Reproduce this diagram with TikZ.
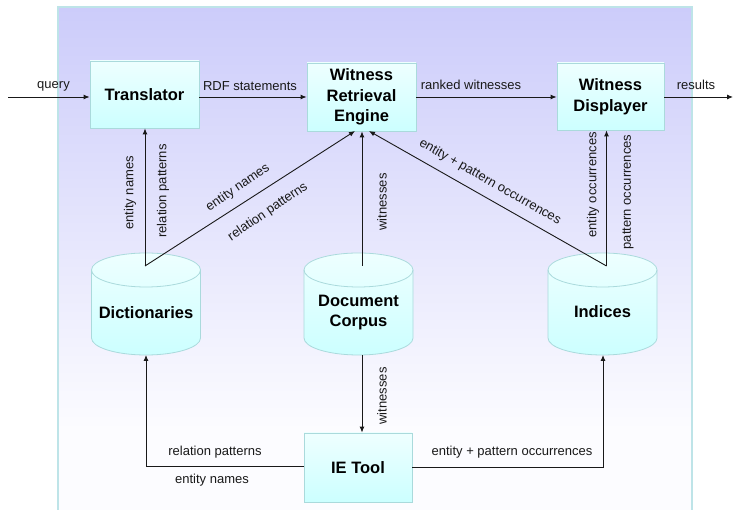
\documentclass[tikz,border=0pt]{standalone}
\usepackage{fontspec}
\setmainfont{Liberation Sans}
\usetikzlibrary{arrows.meta}
\definecolor{panelTop}{RGB}{204,204,250}
\definecolor{panelBot}{RGB}{252,252,255}
\definecolor{panelEdge}{RGB}{190,228,232}
\definecolor{boxTop}{RGB}{238,255,255}
\definecolor{boxBot}{RGB}{204,255,255}
\definecolor{boxEdge}{RGB}{170,218,220}
\definecolor{ink}{RGB}{25,25,25}
\tikzset{
  procbox/.style={draw=boxEdge, line width=0.8pt, top color=boxTop, bottom color=boxBot,
    font=\bfseries\fontsize{16.5}{20.5}\selectfont, align=center, inner sep=0pt, text=black},
  cyltext/.style={font=\bfseries\fontsize{16.5}{20.5}\selectfont, align=center, inner sep=0pt, text=black},
  cylbody/.style={top color=boxTop, bottom color=boxBot, draw=boxEdge, line width=0.8pt},
  lbl/.style={font=\fontsize{13}{15}\selectfont, text=ink, inner sep=0pt},
  flow/.style={draw=ink, line width=0.9pt, -{Latex[length=6pt,width=5pt]}},
}
\begin{document}
\begin{tikzpicture}[x=1pt,y=1pt]
\useasboundingbox (0,0) rectangle (733,510);
% background panel
\shade[top color=panelTop, bottom color=panelBot] (58,80) rectangle (692,503);
\fill[panelBot] (58,-5) rectangle (692,80.5);
\draw[panelEdge, line width=2pt] (58,-5) -- (58,503) -- (692,503) -- (692,-5);

% cylinders
\foreach \cx in {146,358.5,602.5}{
  \shade[cylbody] (\cx-54.5,240) -- (\cx-54.5,172)
     arc[start angle=180, end angle=360, x radius=54.5, y radius=17]
     -- (\cx+54.5,240)
     arc[start angle=0, end angle=180, x radius=54.5, y radius=17] -- cycle;
  \draw[boxEdge, line width=0.8pt] (\cx-54.5,240)
     arc[start angle=180, end angle=360, x radius=54.5, y radius=17];
}
\node[cyltext] (dict) at (146,197) {Dictionaries};
\node[cyltext] (corpus) at (358.5,197.5) {Document\\Corpus};
\node[cyltext] (indices) at (602.5,198) {Indices};

% boxes
\node[procbox, minimum width=109pt, minimum height=67pt] (tr) at (144.5,415.5) {Translator};
\node[procbox, minimum width=109pt, minimum height=68pt] (wre) at (361.5,413) {Witness\\Retrieval\\Engine};
\node[procbox, minimum width=107pt, minimum height=67pt] (wd) at (610.5,413.5) {Witness\\Displayer};
\node[procbox, minimum width=108pt, minimum height=69pt] (ie) at (358,42.5) {IE Tool};

% named points
\coordinate (qin) at (8,413);
\coordinate (rout) at (733,413);
\coordinate (dictTop) at (145,244);
\coordinate (corpTop) at (362,244);
\coordinate (idxTop) at (606.5,244);
\coordinate (corpBot) at (362,155);
\coordinate (dictBot) at (146,155);
\coordinate (idxBot) at (603,155);
\coordinate (wreL) at (355,379);
\coordinate (wreR) at (369,379);

% top flow
\draw[flow] (qin) -- (qin -| tr.west);
\draw[flow] (tr.east |- qin) -- (wre.west |- qin);
\draw[flow] (wre.east |- qin) -- (wd.west |- qin);
\draw[flow] (wd.east |- qin) -- (rout);
\node[lbl] at (53.5,424) {query};
\node[lbl] at (250,424) {RDF statements};
\node[lbl] at (471,425) {ranked witnesses};
\node[lbl] at (696,425) {results};

% dictionaries up
\draw[flow] (dictTop) -- (dictTop |- tr.south);
\draw[flow] (dictTop) -- (wreL);
\node[lbl, rotate=90] at (130,317) {entity names};
\node[lbl, rotate=90] at (163,319) {relation patterns};
\node[lbl, rotate=34.4] at (238,322) {entity names};
\node[lbl, rotate=34.4] at (268,298) {relation patterns};

% corpus up
\draw[flow] (corpTop) -- (corpTop |- wre.south);
\node[lbl, rotate=90] at (382,308) {witnesses};

% indices up
\draw[flow] (idxTop) -- (wreR);
\draw[flow] (idxTop) -- (idxTop |- wd.south);
\node[lbl, rotate=-29.7] at (490,328) {entity + pattern occurrences};
\node[lbl, rotate=90] at (593,325) {entity occurrences};
\node[lbl, rotate=90] at (628,318) {pattern occurrences};

% corpus down to IE
\draw[flow] (corpBot) -- (corpBot |- ie.north);
\node[lbl, rotate=90] at (382,114) {witnesses};

% IE tool outputs
\draw[flow] (ie.west |- 0,44) -| (dictBot);
\draw[flow] (ie.east |- 0,43) -| (idxBot);
\node[lbl] at (215,58) {relation patterns};
\node[lbl] at (212,30) {entity names};
\node[lbl] at (512,58) {entity + pattern occurrences};
\end{tikzpicture}
\end{document}
